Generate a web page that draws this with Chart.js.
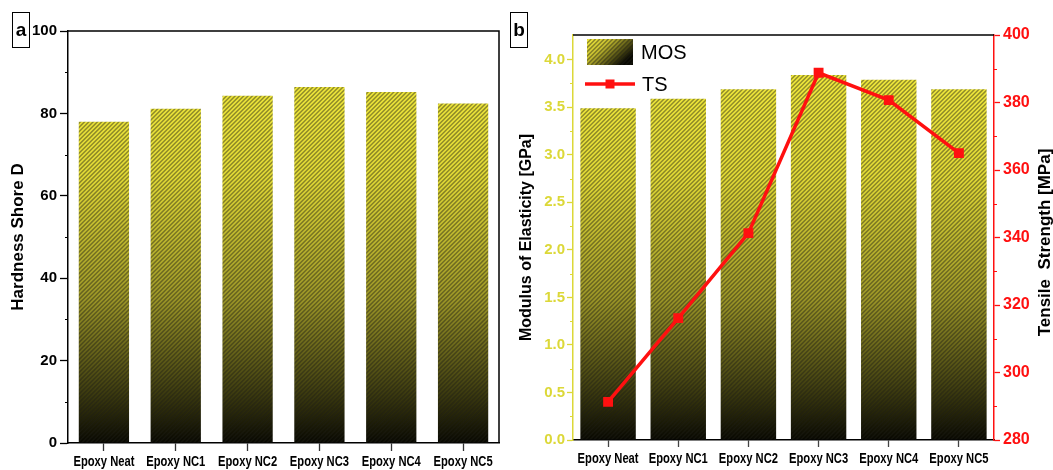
<!DOCTYPE html>
<html>
<head>
<meta charset="utf-8">
<title>Epoxy nanocomposites – hardness, modulus and tensile strength</title>
<script src="https://cdn.jsdelivr.net/npm/chart.js@4/dist/chart.umd.min.js"></script>
<style>
  html, body { margin: 0; padding: 0; background: #fff; }
  #wrap { position: relative; width: 1053px; height: 470px; overflow: hidden; }
  #chartA { position: absolute; left: 0; top: 0; }
  #chartB { position: absolute; left: 505px; top: 0; }
  .tag {
    position: absolute; top: 12px; width: 16px; height: 34px;
    border: 1.5px solid #000; box-sizing: content-box;
    font: bold 19px "Liberation Sans", Arial, sans-serif; color: #000;
    line-height: 34px; text-align: center;
  }
</style>
</head>
<body>
<div id="wrap">
  <canvas id="chartA" width="505" height="470"></canvas>
  <canvas id="chartB" width="548" height="470"></canvas>
  <div class="tag" style="left:12px;">a</div>
  <div class="tag" style="left:510px;">b</div>
</div>
<script>
// ---- data ----
const categories = ['Epoxy Neat', 'Epoxy NC1', 'Epoxy NC2', 'Epoxy NC3', 'Epoxy NC4', 'Epoxy NC5'];
const hardnessShoreD = [78.0, 81.1, 84.3, 86.4, 85.2, 82.4];
const modulusGPa = [3.49, 3.59, 3.69, 3.84, 3.79, 3.69];
const tensileMPa = [291.3, 316.1, 341.3, 388.8, 380.7, 365.0];
const hardnessTicks = [0, 20, 40, 60, 80, 100];
const modulusTicks = [0.0, 0.5, 1.0, 1.5, 2.0, 2.5, 3.0, 3.5, 4.0];
const tensileTicks = [280, 300, 320, 340, 360, 380, 400];

const SANS = '"Liberation Sans", Arial, sans-serif';
const YELLOW = '#dcd838';
const RED = '#ff1010';

Chart.defaults.font.family = SANS;
Chart.defaults.color = '#000';

// Hatched fill: yellow-to-black vertical gradient across the plot area with "/" stripes on top
function hatchPaint(g, w, h, y0, y1) {
  const grd = g.createLinearGradient(0, y0, 0, y1);
  grd.addColorStop(0.00, '#f8f03e');
  grd.addColorStop(0.35, '#e4dc36');
  grd.addColorStop(0.65, '#9e9828');
  grd.addColorStop(0.86, '#464412');
  grd.addColorStop(1.00, '#080802');
  g.fillStyle = grd;
  g.fillRect(0, 0, w, h);
  g.strokeStyle = 'rgba(30,30,22,0.45)';
  g.lineWidth = 1.5;
  g.beginPath();
  for (let x = -h; x < w + h; x += 4.3) {
    g.moveTo(x, h);
    g.lineTo(x + h, 0);
  }
  g.stroke();
}

function hatchFill(chart) {
  const a = chart.chartArea;
  if (!a) return '#d6cf2d';
  const key = [a.top, a.bottom, chart.width, chart.height].join(',');
  if (chart.$hatch && chart.$hatch.key === key) return chart.$hatch.pattern;
  const c = document.createElement('canvas');
  c.width = chart.width;
  c.height = chart.height;
  hatchPaint(c.getContext('2d'), c.width, c.height, a.top, a.bottom);
  const pattern = chart.ctx.createPattern(c, 'no-repeat');
  chart.$hatch = { key, pattern };
  return pattern;
}

function fixedTicks(values) {
  return scale => { scale.ticks = values.map(v => ({ value: v })); };
}

// Short unlabeled ticks halfway between the labelled ones
const minorTicks = {
  id: 'minorTicks',
  afterDraw(chart, args, opts) {
    const ctx = chart.ctx;
    (opts.axes || []).forEach(m => {
      const s = chart.scales[m.id];
      const vals = s.ticks.map(t => t.value);
      ctx.save();
      ctx.strokeStyle = m.color;
      ctx.lineWidth = 1;
      for (let i = 0; i < vals.length - 1; i++) {
        const v = (vals[i] + vals[i + 1]) / 2;
        const y = Math.round(s.getPixelForValue(v)) + 0.5;
        const x = m.side === 'left' ? s.right : s.left;
        ctx.beginPath();
        ctx.moveTo(x, y);
        ctx.lineTo(m.side === 'left' ? x - m.len : x + m.len, y);
        ctx.stroke();
      }
      ctx.restore();
    });
  }
};

// Category labels in a condensed bold face, centred under each tick
const condensedLabels = {
  id: 'condensedLabels',
  afterDraw(chart, args, opts) {
    const ctx = chart.ctx;
    const s = chart.scales.x;
    ctx.save();
    ctx.fillStyle = '#000';
    ctx.font = 'bold 14px ' + SANS;
    ctx.textAlign = 'center';
    ctx.textBaseline = 'alphabetic';
    s.ticks.forEach((t, i) => {
      const x = s.getPixelForTick(i);
      const label = chart.data.labels[i];
      ctx.save();
      ctx.translate(x, s.top + opts.offset);
      ctx.scale(0.8, 1);
      ctx.fillText(label, 0, 0);
      ctx.restore();
    });
    ctx.restore();
  }
};

// Top (and optionally right) frame lines of the plot box
const frame = {
  id: 'frame',
  afterDraw(chart, args, opts) {
    const { ctx, chartArea: a } = chart;
    ctx.save();
    ctx.strokeStyle = '#000';
    ctx.lineWidth = 1.5;
    ctx.beginPath();
    ctx.moveTo(a.left, a.top);
    ctx.lineTo(a.right, a.top);
    if (opts.right) {
      ctx.lineTo(a.right, a.bottom);
    }
    ctx.stroke();
    ctx.restore();
  }
};

// ---- panel a: hardness ----
new Chart(document.getElementById('chartA'), {
  type: 'bar',
  data: {
    labels: categories,
    datasets: [{
      label: 'Hardness',
      data: hardnessShoreD,
      backgroundColor: ctx => hatchFill(ctx.chart),
      borderWidth: 0,
      categoryPercentage: 1.0,
      barPercentage: 0.70
    }]
  },
  options: {
    responsive: false,
    animation: false,
    devicePixelRatio: 1,
    layout: { padding: { top: 31, right: 6, left: 0, bottom: 0 } },
    plugins: {
      legend: { display: false },
      tooltip: { enabled: false },
      minorTicks: { axes: [{ id: 'y', side: 'left', len: 3, color: '#000' }] },
      condensedLabels: { offset: 23 },
      frame: { right: true }
    },
    scales: {
      x: {
        afterFit: s => { s.height = 27; },
        grid: { display: true, offset: false, drawOnChartArea: false, drawTicks: true, tickLength: 8, color: '#333', tickWidth: 1.3 },
        border: { display: true, color: '#000', width: 1.5 },
        ticks: { display: false }
      },
      y: {
        min: 0, max: 100,
        afterBuildTicks: fixedTicks(hardnessTicks),
        afterFit: s => { s.width = 68; },
        grid: { display: true, drawOnChartArea: false, drawTicks: true, tickLength: 8, color: '#000', tickWidth: 1.3 },
        border: { display: true, color: '#000', width: 1.5 },
        ticks: { font: { size: 15, weight: 'bold' }, color: '#000', padding: 3 },
        title: { display: true, text: 'Hardness Shore D', font: { size: 17, weight: 'bold' }, color: '#000', padding: { top: 8, bottom: 0 } }
      }
    }
  },
  plugins: [minorTicks, frame, condensedLabels]
});

// ---- panel b: modulus (bars) and tensile strength (line) ----
const legendB = {
  id: 'legendB',
  afterDraw(chart) {
    const ctx = chart.ctx;
    const sx = 82, sy = 39, sw = 46, sh = 26;
    // swatch
    const c = document.createElement('canvas');
    c.width = sw; c.height = sh;
    const g = c.getContext('2d');
    const grd = g.createLinearGradient(0, 0, sw * 0.6, sh * 1.2);
    grd.addColorStop(0, '#f8f03e');
    grd.addColorStop(0.4, '#c8c030');
    grd.addColorStop(1, '#0a0a03');
    g.fillStyle = grd;
    g.fillRect(0, 0, sw, sh);
    g.strokeStyle = 'rgba(30,30,22,0.45)';
    g.lineWidth = 1.5;
    g.beginPath();
    for (let x = -sh; x < sw + sh; x += 4.3) { g.moveTo(x, sh); g.lineTo(x + sh, 0); }
    g.stroke();
    ctx.save();
    ctx.drawImage(c, sx, sy);
    ctx.fillStyle = '#000';
    ctx.font = '20px ' + SANS;
    ctx.textBaseline = 'middle';
    ctx.textAlign = 'left';
    ctx.fillText('MOS', 136, 53);
    // line sample
    ctx.strokeStyle = RED;
    ctx.lineWidth = 3.5;
    ctx.beginPath();
    ctx.moveTo(80, 84);
    ctx.lineTo(130, 84);
    ctx.stroke();
    ctx.fillStyle = RED;
    ctx.fillRect(105 - 4.5, 84 - 4.5, 9, 9);
    ctx.fillStyle = '#000';
    ctx.fillText('TS', 137, 85);
    ctx.restore();
  }
};

// Right-hand axis title, reading bottom to top
const rightTitle = {
  id: 'rightTitle',
  afterDraw(chart) {
    const ctx = chart.ctx;
    const a = chart.chartArea;
    ctx.save();
    ctx.translate(540, (a.top + a.bottom) / 2 + 5);
    ctx.rotate(-Math.PI / 2);
    ctx.fillStyle = '#000';
    ctx.font = 'bold 17px ' + SANS;
    ctx.textAlign = 'center';
    ctx.textBaseline = 'middle';
    ctx.fillText('Tensile  Strength [MPa]', 0, 0);
    ctx.restore();
  }
};

new Chart(document.getElementById('chartB'), {
  type: 'bar',
  data: {
    labels: categories,
    datasets: [
      {
        type: 'line',
        label: 'TS',
        data: tensileMPa,
        yAxisID: 'y2',
        borderColor: RED,
        backgroundColor: RED,
        borderWidth: 3.5,
        pointStyle: 'rect',
        pointRadius: 4.5,
        pointBackgroundColor: RED,
        pointBorderColor: RED,
        tension: 0,
        order: 0
      },
      {
        type: 'bar',
        label: 'MOS',
        data: modulusGPa,
        yAxisID: 'y',
        backgroundColor: ctx => hatchFill(ctx.chart),
        borderWidth: 0,
        categoryPercentage: 1.0,
        barPercentage: 0.79,
        order: 1
      }
    ]
  },
  options: {
    responsive: false,
    animation: false,
    devicePixelRatio: 1,
    layout: { padding: { top: 35, right: 0, left: 0, bottom: 0 } },
    plugins: {
      legend: { display: false },
      tooltip: { enabled: false },
      minorTicks: { axes: [
        { id: 'y', side: 'left', len: 3, color: YELLOW },
        { id: 'y2', side: 'right', len: 3, color: RED }
      ] },
      condensedLabels: { offset: 23 },
      frame: { right: false }
    },
    scales: {
      x: {
        afterFit: s => { s.height = 30; },
        grid: { display: true, offset: false, drawOnChartArea: false, drawTicks: true, tickLength: 7, color: '#444', tickWidth: 1.3 },
        border: { display: true, color: '#000', width: 1.5 },
        ticks: { display: false }
      },
      y: {
        position: 'left',
        min: 0, max: 4.26,
        afterBuildTicks: fixedTicks(modulusTicks),
        afterFit: s => { s.width = 68; },
        grid: { display: true, drawOnChartArea: false, drawTicks: true, tickLength: 6, color: YELLOW, tickWidth: 1.3 },
        border: { display: true, color: YELLOW, width: 1.5 },
        ticks: { font: { size: 15, weight: 'bold' }, color: YELLOW, padding: 2, callback: v => Number(v).toFixed(1) },
        title: { display: true, text: 'Modulus of Elasticity [GPa]', font: { size: 16, weight: 'bold' }, color: '#000', padding: { top: 12, bottom: 0 } }
      },
      y2: {
        position: 'right',
        min: 280, max: 400,
        afterBuildTicks: fixedTicks(tensileTicks),
        afterFit: s => { s.width = 59; },
        grid: { display: true, drawOnChartArea: false, drawTicks: true, tickLength: 6, color: RED, tickWidth: 1.3 },
        border: { display: true, color: RED, width: 1.5 },
        ticks: { font: { size: 16, weight: 'bold' }, color: RED, padding: 3 }
      }
    }
  },
  plugins: [minorTicks, frame, legendB, rightTitle, condensedLabels]
});
</script>
</body>
</html>
